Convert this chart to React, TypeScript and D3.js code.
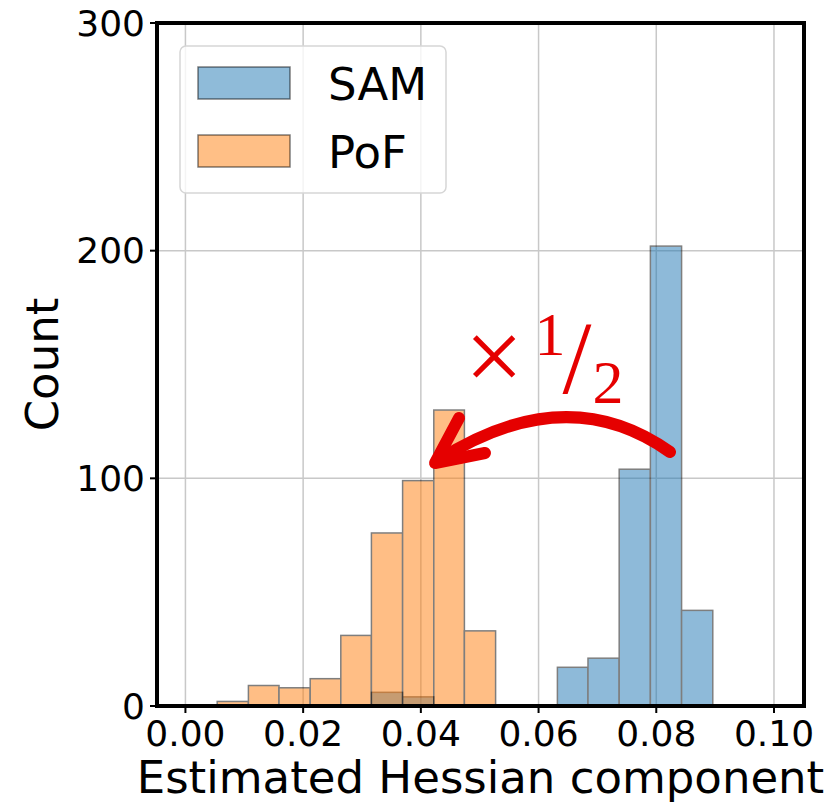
import React from "react";
import * as d3 from "d3";

// histogram bin edges and counts
const pofEdges = [0.0054, 0.0107, 0.0159, 0.0212, 0.0264, 0.0316, 0.0369, 0.0422, 0.0474, 0.0527];
const pofCounts = [2, 9, 8, 12, 31, 76, 99, 130, 33];

const samEdges = [0.0316, 0.0369, 0.0422, 0.0474, 0.0527, 0.0579, 0.0632, 0.0684, 0.0737, 0.079, 0.0843, 0.0896];
const samCounts = [6, 4, 0, 0, 0, 0, 17, 21, 104, 202, 42];

const xTicks = [0, 0.02, 0.04, 0.06, 0.08, 0.1];
const yTicks = [0, 100, 200, 300];

const seriesNames = ["SAM", "PoF"];
const seriesColors = ["#1f77b4", "#ff7f0e"];

const width = 840;
const height = 806;
const margin = { left: 157, right: 36, top: 23, bottom: 100 };
const font = "DejaVu Sans, sans-serif";
const red = "#e50000";

function toBins(edges: number[], counts: number[]) {
  return counts.map((c, i) => ({ x0: edges[i], x1: edges[i + 1], count: c }));
}

export default function App() {
  const x = d3
    .scaleLinear()
    .domain([-0.00483, 0.1051])
    .range([margin.left, width - margin.right]);
  const y = d3
    .scaleLinear()
    .domain([0, 300])
    .range([height - margin.bottom, margin.top]);

  const [x0, x1] = x.range();
  const [y0, y1] = y.range();

  const series = [toBins(samEdges, samCounts), toBins(pofEdges, pofCounts)];

  // curved arrow, from the SAM peak back to the PoF peak
  const arc = d3.path();
  arc.moveTo(670, 452);
  arc.quadraticCurveTo(566, 378, 437, 461);

  return (
    <svg width={width} height={height} style={{ position: "absolute", left: 0, top: 0 }}>
      <rect width={width} height={height} fill="white" />

      {/* grid */}
      <g stroke="#c8c8c8" strokeWidth={1.5}>
        {xTicks.map(t => (
          <line key={"gx" + t} x1={x(t)} x2={x(t)} y1={y1} y2={y0} />
        ))}
        {yTicks.map(t => (
          <line key={"gy" + t} x1={x0} x2={x1} y1={y(t)} y2={y(t)} />
        ))}
      </g>

      {/* bars */}
      {series.map((bins, si) => (
        <g key={si} opacity={0.5}>
          {bins
            .filter(b => b.count > 0)
            .map((b, i) => (
              <rect
                key={i}
                x={x(b.x0)}
                y={y(b.count)}
                width={x(b.x1) - x(b.x0)}
                height={y(0) - y(b.count)}
                fill={seriesColors[si]}
                stroke="black"
                strokeWidth={1.5}
              />
            ))}
        </g>
      ))}

      {/* annotation */}
      <g fill={red} fontFamily="Liberation Serif, serif" textAnchor="middle">
        <text x={494} y={391} fontSize={104}>×</text>
        <text x={550} y={355} fontSize={62}>1</text>
        <text x={577} y={393} fontSize={104}>/</text>
        <text x={608} y={403} fontSize={62}>2</text>
      </g>
      <g stroke={red} strokeWidth={12} fill="none" strokeLinecap="round" strokeLinejoin="round">
        <path d={arc.toString()} />
        <path d="M459,418 L435,463 L485,453" />
      </g>

      {/* legend */}
      <g>
        <rect x={180} y={46} width={266} height={147} rx={6} fill="white" fillOpacity={0.8} stroke="#d6d6d6" strokeWidth={1.5} />
        {seriesNames.map((name, i) => (
          <g key={name} transform={`translate(0,${i * 68})`}>
            <rect x={198} y={67} width={92} height={32} fill={seriesColors[i]} fillOpacity={0.5} stroke="black" strokeOpacity={0.5} strokeWidth={1.5} />
            <text x={328} y={100} fontFamily={font} fontSize={45}>
              {name}
            </text>
          </g>
        ))}
      </g>

      {/* spines */}
      <rect x={x0} y={y1} width={x1 - x0} height={y0 - y1} fill="none" stroke="black" strokeWidth={4} />

      {/* ticks */}
      <g stroke="black" strokeWidth={2}>
        {xTicks.map(t => (
          <line key={"tx" + t} x1={x(t)} x2={x(t)} y1={y0} y2={y0 + 7} />
        ))}
        {yTicks.map(t => (
          <line key={"ty" + t} x1={x0 - 7} x2={x0} y1={y(t)} y2={y(t)} />
        ))}
      </g>
      <g fontFamily={font} fontSize={36} fill="black">
        {xTicks.map(t => (
          <text key={"lx" + t} x={x(t)} y={y0 + 40} textAnchor="middle">
            {d3.format(".2f")(t)}
          </text>
        ))}
        {yTicks.map(t => (
          <text key={"ly" + t} x={x0 - 12} y={y(t)} textAnchor="end" dominantBaseline="central">
            {t}
          </text>
        ))}
      </g>

      {/* axis titles */}
      <text x={(x0 + x1) / 2} y={793} textAnchor="middle" fontFamily={font} fontSize={45}>
        Estimated Hessian component
      </text>
      <text
        transform={`translate(58,${(y0 + y1) / 2}) rotate(-90)`}
        textAnchor="middle"
        fontFamily={font}
        fontSize={45}
      >
        Count
      </text>
    </svg>
  );
}
